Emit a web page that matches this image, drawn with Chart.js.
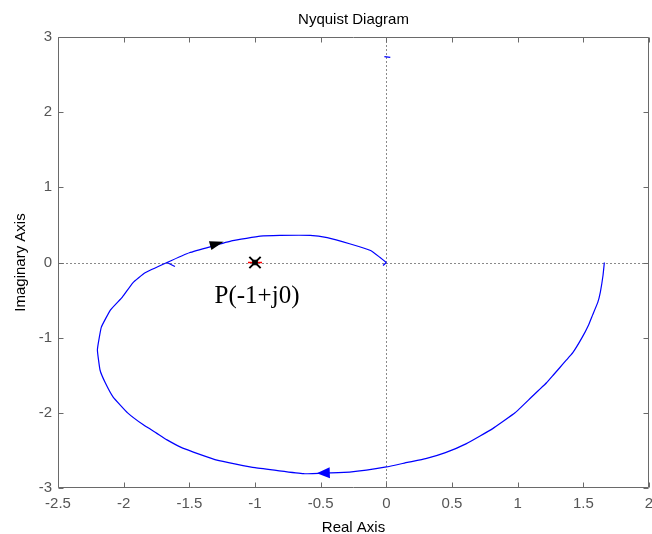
<!DOCTYPE html>
<html>
<head>
<meta charset="utf-8">
<script src="https://cdn.jsdelivr.net/npm/chart.js@4"></script>
<style>
  html, body { margin: 0; padding: 0; background: #fff; }
  #wrap { width: 652px; height: 534px; }
</style>
</head>
<body>
<div id="wrap"><canvas id="c" width="652" height="534"></canvas></div>
<script>
// Open-loop frequency response G(jw), real and imaginary parts
const realPart = [1.66, 1.65, 1.63, 1.61, 1.57, 1.54, 1.49, 1.42, 1.37, 1.32, 1.27, 1.22, 1.16, 1.1, 0.98,
  0.81, 0.61, 0.45, 0.3, 0.16, 0.0, -0.28, -0.43, -0.63, -1.0, -1.29, -1.55, -1.67, -1.75, -1.85, -1.97,
  -2.08, -2.14, -2.18, -2.2, -2.17, -2.1, -2.01, -1.93, -1.84, -1.67, -1.5, -1.17, -0.96, -0.81, -0.58,
  -0.45, -0.28, -0.12, -0.05, 0.0];
const imagPart = [0.0, -0.17, -0.39, -0.53, -0.7, -0.83, -1.0, -1.2, -1.3, -1.4, -1.5, -1.6, -1.7, -1.8, -2.0,
  -2.21, -2.41, -2.53, -2.61, -2.66, -2.72, -2.79, -2.8, -2.81, -2.73, -2.63, -2.47, -2.36, -2.27, -2.16, -2.0,
  -1.79, -1.6, -1.43, -1.16, -0.86, -0.63, -0.46, -0.27, -0.14, 0.0, 0.13, 0.29, 0.35, 0.36, 0.36,
  0.33, 0.25, 0.16, 0.07, 0.0];

// Short stubs of the mirrored (negative frequency) branch
const stubSegments = [
  { re: [-1.67, -1.61], im: [0.0, -0.053] },
  { re: [0.0, -0.025], im: [0.0, -0.04] },
  { re: [-0.015, 0.03], im: [2.74, 2.73] }
];

// Direction arrows placed on the curve
const arrowRe = [-1.29, -0.48];
const arrowIm = [0.25, -2.80];
const arrowColors = ['#000000', '#0000ff'];

// Critical point -1 + j0
const criticalRe = [-1];
const criticalIm = [0];
const criticalLabel = 'P(-1+j0)';

// Axis ranges and tick spacing
const xRange = [-2.5, 2];
const yRange = [-3, 3];
const xStep = 0.5;
const yStep = 1;

const chartTitle = 'Nyquist Diagram';
const xTitle = 'Real Axis';
const yTitle = 'Imaginary Axis';

const zip = (a, b) => a.map((v, i) => ({ x: v, y: b[i] }));

const datasets = [
  {
    label: 'G(jw)', data: zip(realPart, imagPart), showLine: true, borderColor: '#0000ff',
    borderWidth: 1.2, pointRadius: 0, tension: 0.1, order: 5
  }
];
stubSegments.forEach((s, i) => datasets.push({
  label: 'stub' + i, data: zip(s.re, s.im), showLine: true, borderColor: '#0000ff',
  borderWidth: 1.2, pointRadius: 0, order: 5
}));
datasets.push(
  { label: 'p-red', data: zip(criticalRe, criticalIm), pointStyle: 'line', pointRadius: 7,
    borderColor: '#ff0000', borderWidth: 1.5, backgroundColor: '#ff0000', order: 3 },
  { label: 'p-x', data: zip(criticalRe, criticalIm), pointStyle: 'crossRot', pointRadius: 8,
    borderColor: '#000000', borderWidth: 2, order: 2 },
  { label: 'p-sq', data: zip(criticalRe, criticalIm), pointStyle: 'rect', pointRadius: 3.2,
    borderColor: '#000000', backgroundColor: '#000000', borderWidth: 1, order: 1 }
);

const FONT = '"Liberation Sans", Arial, sans-serif';
const fmt = v => String(Math.round(v * 10) / 10);

const framePlugin = {
  id: 'frame',
  beforeDraw(chart) {
    const ctx = chart.ctx;
    ctx.save();
    ctx.fillStyle = '#ffffff';
    ctx.fillRect(0, 0, chart.width, chart.height);
    ctx.restore();
  },
  beforeDatasetsDraw(chart) {
    const { ctx, chartArea: a, scales: { x, y } } = chart;
    ctx.save();
    ctx.strokeStyle = '#8a8a8a';
    ctx.lineWidth = 1;
    ctx.setLineDash([2, 2]);
    const x0 = Math.round(x.getPixelForValue(0)) + 0.5;
    const y0 = Math.round(y.getPixelForValue(0)) + 0.5;
    ctx.beginPath();
    ctx.moveTo(x0, a.top); ctx.lineTo(x0, a.bottom);
    ctx.moveTo(a.left, y0); ctx.lineTo(a.right, y0);
    ctx.stroke();
    ctx.restore();
  },
  afterDatasetsDraw(chart) {
    const { ctx, chartArea: a, scales: { x, y } } = chart;
    ctx.save();
    // direction arrows, oriented along the nearest curve segment
    const pts = realPart.map((v, i) => [x.getPixelForValue(v), y.getPixelForValue(imagPart[i])]);
    arrowRe.forEach((re, k) => {
      const px = x.getPixelForValue(re), py = y.getPixelForValue(arrowIm[k]);
      let best = 0, bd = Infinity;
      for (let i = 0; i < pts.length - 1; i++) {
        const mx = (pts[i][0] + pts[i + 1][0]) / 2, my = (pts[i][1] + pts[i + 1][1]) / 2;
        const d = (mx - px) ** 2 + (my - py) ** 2;
        if (d < bd) { bd = d; best = i; }
      }
      const ang = Math.atan2(pts[best + 1][1] - pts[best][1], pts[best + 1][0] - pts[best][0]);
      const len = k === 0 ? 14 : 13, half = k === 0 ? 4.5 : 5.5;
      ctx.save();
      ctx.translate(px, py);
      ctx.rotate(ang);
      ctx.fillStyle = arrowColors[k];
      ctx.beginPath();
      ctx.moveTo(len / 2, 0);
      ctx.lineTo(-len / 2, -half);
      ctx.lineTo(-len / 2, half);
      ctx.closePath();
      ctx.fill();
      ctx.restore();
    });

    // box and inward ticks on all four sides
    const L = a.left + 0.5, R = a.right - 0.5, T = a.top + 0.5, B = a.bottom - 0.5;
    ctx.strokeStyle = '#6a6a6a';
    ctx.lineWidth = 1;
    ctx.beginPath();
    ctx.rect(L, T, R - L, B - T);
    const tl = 5;
    for (let v = xRange[0]; v <= xRange[1] + 1e-9; v += xStep) {
      const px = Math.round(x.getPixelForValue(v)) + 0.5;
      ctx.moveTo(px, B); ctx.lineTo(px, B - tl);
      ctx.moveTo(px, T); ctx.lineTo(px, T + tl);
    }
    for (let v = yRange[0]; v <= yRange[1] + 1e-9; v += yStep) {
      const py = Math.round(y.getPixelForValue(v)) + 0.5;
      ctx.moveTo(L, py); ctx.lineTo(L + tl, py);
      ctx.moveTo(R, py); ctx.lineTo(R - tl, py);
    }
    ctx.stroke();

    // real-axis tick labels, placed from the x scale's own ticks
    ctx.fillStyle = '#555';
    ctx.font = '15px ' + FONT;
    ctx.textAlign = 'center';
    ctx.textBaseline = 'alphabetic';
    x.ticks.forEach(t => ctx.fillText(fmt(t.value), x.getPixelForValue(t.value), a.bottom + 20));

    // critical point label
    ctx.fillStyle = '#000';
    ctx.font = '25px "Liberation Serif", "Times New Roman", serif';
    ctx.fillText(criticalLabel, x.getPixelForValue(criticalRe[0]) + 2, y.getPixelForValue(criticalIm[0]) + 40);

    // titles
    const cx = (a.left + a.right) / 2;
    ctx.font = '15px ' + FONT;
    ctx.fillText(chartTitle, cx, 24);
    ctx.fillText(xTitle, cx, 532);
    ctx.translate(25, (a.top + a.bottom) / 2);
    ctx.rotate(-Math.PI / 2);
    ctx.fillText(yTitle, 0, 0);
    ctx.restore();
  }
};

new Chart(document.getElementById('c'), {
  type: 'scatter',
  data: { datasets },
  options: {
    responsive: false,
    animation: false,
    layout: { autoPadding: false, padding: { top: 37, right: 3, bottom: 0, left: 0 } },
    plugins: { legend: { display: false }, tooltip: { enabled: false }, title: { display: false } },
    scales: {
      x: {
        type: 'linear', min: xRange[0], max: xRange[1],
        grid: { display: false, drawTicks: false },
        border: { display: false },
        ticks: { stepSize: xStep, display: false },
        afterFit(s) { s.height = 46; }
      },
      y: {
        type: 'linear', min: yRange[0], max: yRange[1],
        grid: { display: false, drawTicks: false },
        border: { display: false },
        ticks: { stepSize: yStep, padding: 6, color: '#555', font: { family: FONT, size: 15 }, callback: fmt },
        afterFit(s) { s.width = 58; }
      }
    }
  },
  plugins: [framePlugin]
});
</script>
</body>
</html>
